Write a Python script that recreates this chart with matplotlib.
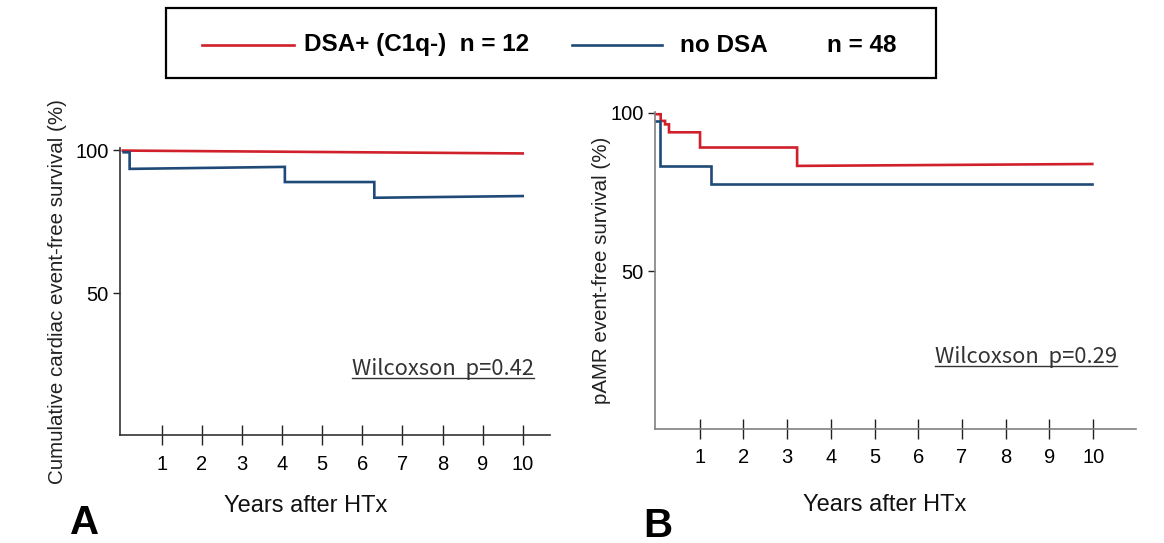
import matplotlib
matplotlib.use("Agg")
import matplotlib.pyplot as plt
from matplotlib.patches import Rectangle
from matplotlib.lines import Line2D

plt.rcParams['font.family'] = ['Liberation Sans', 'DejaVu Sans']

# survival curves (years, %)
a_red_t = [0.03, 10.0]
a_red_s = [99.8, 98.8]
a_blue_t = [0.05, 0.2, 0.2, 4.07, 4.07, 6.3, 6.3, 10.0]
a_blue_s = [99.2, 99.2, 93.4, 94.1, 88.8, 88.8, 83.3, 83.9]

b_red_t = [0.0, 0.11, 0.11, 0.21, 0.21, 0.30, 0.30, 1.01, 1.01, 3.23, 3.23, 9.98]
b_red_s = [99.6, 99.6, 97.5, 97.5, 96.4, 96.4, 93.9, 93.9, 89.1, 89.1, 83.3, 83.9]
b_blue_t = [0.0, 0.09, 0.09, 1.27, 1.27, 9.98]
b_blue_s = [97.5, 97.5, 83.3, 83.3, 77.6, 77.6]

years = list(range(1, 11))
y_ticks = [50, 100]
p_text = ["Wilcoxson  p=0.42", "Wilcoxson  p=0.29"]
legend_labels = ["DSA+ (C1q-)  n = 12", "no DSA", "n = 48"]

red = '#d0202a'
blue = '#1f4a78'

W, H = 1164, 543
fig = plt.figure(figsize=(W / 100, H / 100), dpi=100)


def fx(px):
    return px / W


def fy(py):
    return 1 - py / H


def setup(ax, spine_col, ylabel, labelpad, xpad):
    for s in ['top', 'right']:
        ax.spines[s].set_visible(False)
    for s in ['left', 'bottom']:
        ax.spines[s].set_color(spine_col)
        ax.spines[s].set_linewidth(1.2)
    ax.set_xticks(years)
    ax.set_yticks(y_ticks)
    ax.tick_params(axis='x', direction='inout', length=14.5, width=1.0,
                   color='#222222', labelsize=14.5, pad=xpad)
    ax.tick_params(axis='y', direction='out', length=5, width=1.0,
                   color='#222222', labelsize=14.5, pad=3)
    ax.set_ylabel(ylabel, fontsize=14.8, labelpad=labelpad, color='#222222')
    ax.set_facecolor('none')


# panel A
axA = fig.add_axes([fx(120), fy(435), fx(430), 287 / H])
axA.set_xlim(-0.04, 10.68)
axA.set_ylim(0.35, 100.7)
setup(axA, '#333333', 'Cumulative cardiac event-free survival (%)', 6, 7.5)
axA.plot(a_red_t, a_red_s, color=red, lw=1.9, solid_joinstyle='miter')
axA.plot(a_blue_t, a_blue_s, color=blue, lw=1.9, solid_joinstyle='miter')

# panel B
axB = fig.add_axes([fx(655), fy(429), fx(481), 317 / H])
axB.set_xlim(-0.02, 10.98)
axB.set_ylim(0.32, 100.3)
setup(axB, '#808080', 'pAMR event-free survival (%)', 0, 6.5)
axB.plot(b_red_t, b_red_s, color=red, lw=1.9, solid_joinstyle='miter', clip_on=False)
axB.plot(b_blue_t, b_blue_s, color=blue, lw=1.9, solid_joinstyle='miter', clip_on=False)

# x labels and panel letters
fig.text(fx(306), fy(506), "Years after HTx", fontsize=17, ha='center', va='center', color='#111111')
fig.text(fx(885), fy(505), "Years after HTx", fontsize=17, ha='center', va='center', color='#111111')
fig.text(fx(70), fy(534), "A", fontsize=29, fontweight='bold', ha='left', va='baseline')
fig.text(fx(643), fy(537), "B", fontsize=29, fontweight='bold', ha='left', va='baseline')

# Wilcoxson texts, underlined
wil = [(352, 375, 378), (935, 363, 366)]
txts = []
for (x0, yb, yu), s in zip(wil, p_text):
    t = fig.text(fx(x0), fy(yb), s, fontsize=15.8, ha='left', va='baseline',
                 color='#333333', family=['Noto Sans CJK JP', 'DejaVu Sans'])
    txts.append((t, yu))
fig.canvas.draw()
r = fig.canvas.get_renderer()
for t, yu in txts:
    bb = t.get_window_extent(renderer=r)
    fig.add_artist(Line2D([bb.x0 / W, bb.x1 / W], [fy(yu), fy(yu)],
                          color='#333333', lw=1.0, transform=fig.transFigure))

# legend box
fig.add_artist(Rectangle((fx(166), fy(78)), fx(936 - 166), 70 / H, fill=False,
                         edgecolor='black', lw=1.6, transform=fig.transFigure))
fig.add_artist(Line2D([fx(202), fx(294)], [fy(45), fy(45)], color=red, lw=1.9,
                      transform=fig.transFigure))
fig.add_artist(Line2D([fx(572), fx(662)], [fy(45), fy(45)], color=blue, lw=1.9,
                      transform=fig.transFigure))
fig.text(fx(304), fy(45), legend_labels[0], fontsize=17.5, fontweight='bold', va='center')
fig.text(fx(680), fy(45), legend_labels[1], fontsize=17.5, fontweight='bold', va='center')
fig.text(fx(827), fy(45), legend_labels[2], fontsize=17.5, fontweight='bold', va='center')

fig.savefig("out.png", dpi=100)
